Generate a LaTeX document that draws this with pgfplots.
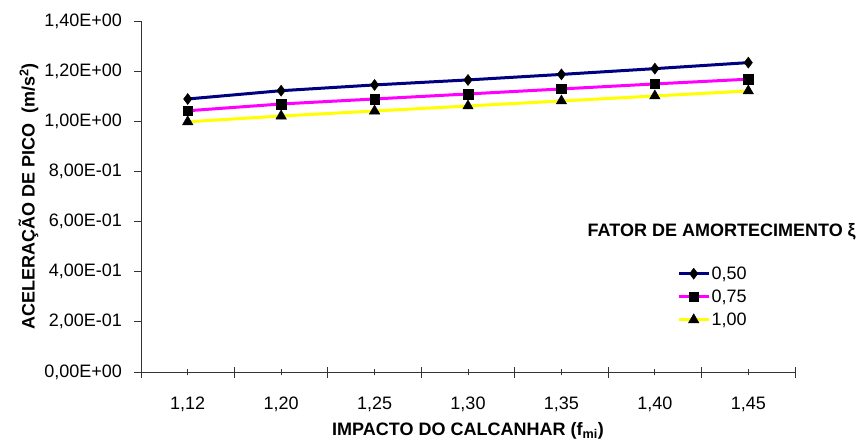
\documentclass[border=0pt]{standalone}
\usepackage{pgfplots}
\pgfplotsset{compat=1.18}
\usepackage{fontspec}
\setmainfont{Liberation Sans}
\definecolor{sA}{RGB}{0,0,128}
\definecolor{sB}{RGB}{255,0,255}
\definecolor{sC}{RGB}{255,255,0}
\begin{document}
\begin{tikzpicture}
\useasboundingbox (-141pt,-68pt) rectangle (719pt,372pt);
\begin{axis}[
  at={(0pt,0pt)}, anchor=south west,
  scale only axis, width=654pt, height=351pt,
  xmin=0.5, xmax=7.5, ymin=0, ymax=1.4,
  axis lines*=left, axis line style={-, black!80, line width=0.8pt},
  every tick/.style={black!80, line width=0.8pt},
  major tick length=6.5pt,
  xtick={1,...,7},
  xticklabels={{1,12},{1,20},{1,25},{1,30},{1,35},{1,40},{1,45}},
  xtick align=center,
  extra x ticks={0.5,1.5,2.5,3.5,4.5,5.5,6.5,7.5},
  extra x tick labels={},
  extra x tick style={major tick length=11pt, tick align=center},
  ytick={0,0.2,...,1.4},
  yticklabels={{0,00E+00},{2,00E-01},{4,00E-01},{6,00E-01},{8,00E-01},{1,00E+00},{1,20E+00},{1,40E+00}},
  ytick align=outside,
  /pgf/number format/assume math mode=true,
  tick label style={font=\fontsize{18}{21}\selectfont},
  yticklabel style={xshift=-9pt},
  xticklabel style={yshift=-18pt},
  xlabel={\textbf{IMPACTO DO CALCANHAR (f\textsubscript{mi})}},
  ylabel={\textbf{ACELERAÇÃO DE PICO\ \ (m/s\textsuperscript{2})}},
  label style={font=\fontsize{18}{21}\selectfont},
  xlabel style={at={(0.5,0)}, anchor=north, yshift=-46.5pt},
  ylabel style={at={(0,0.5)}, anchor=south, yshift=99pt},
  clip=false,
  legend style={at={(rel axis cs:0.8196,0.305)}, anchor=north west, draw=none, fill=none,
    inner sep=0pt, row sep=6pt, font=\fontsize{18}{21}\selectfont,
    nodes={inner sep=1.5pt}},
  legend cell align=left,
  legend image code/.code={\draw[#1, mark repeat=2, mark phase=2] plot coordinates {(0pt,0pt) (15pt,0pt) (30pt,0pt)};},
  every axis plot/.append style={line width=3pt},
]
\addplot[sA, mark=diamond*, mark size=5.5pt, mark options={black, fill=black, line width=0.5pt}] coordinates {
(1,1.089) (2,1.122) (3,1.145) (4,1.165) (5,1.187) (6,1.210) (7,1.234)};
\addlegendentry{0,50}
\addplot[sB, mark=square*, mark size=4.8pt, mark options={black, fill=black, line width=0.5pt}] coordinates {
(1,1.042) (2,1.069) (3,1.089) (4,1.109) (5,1.129) (6,1.149) (7,1.168)};
\addlegendentry{0,75}
\addplot[sC, mark=triangle*, mark size=6pt, mark options={black, fill=black, line width=0.5pt}] coordinates {
(1,0.998) (2,1.021) (3,1.041) (4,1.061) (5,1.081) (6,1.101) (7,1.121)};
\addlegendentry{1,00}
\node[font=\bfseries\fontsize{18}{21}\selectfont] at (rel axis cs:0.888,0.399) {FATOR DE AMORTECIMENTO ξ};
\end{axis}
\end{tikzpicture}
\end{document}
